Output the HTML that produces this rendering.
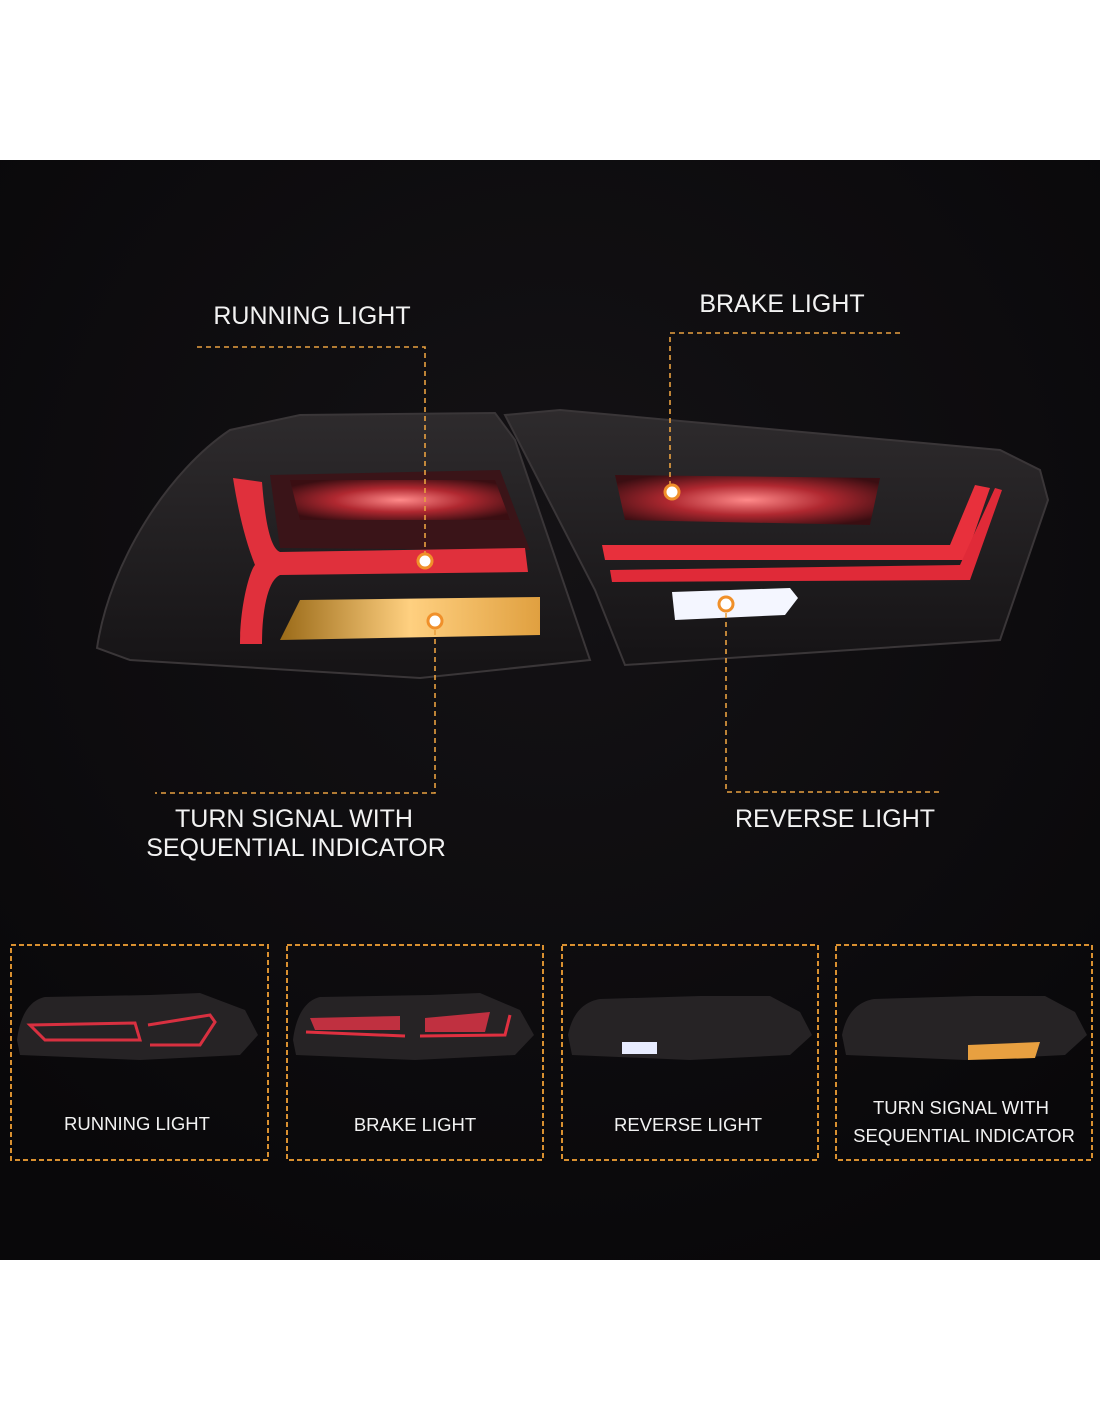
<!DOCTYPE html>
<html><head><style>
html,body{margin:0;padding:0;background:#fff;width:1100px;height:1422px;overflow:hidden}
svg{display:block}
text{font-family:"Liberation Sans",sans-serif;fill:#f2f2f2}
</style></head><body>
<svg width="1100" height="1422" viewBox="0 0 1100 1422">
<defs>
<radialGradient id="bg" cx="0.5" cy="0.35" r="0.7"><stop offset="0" stop-color="#141215"/><stop offset="1" stop-color="#09080a"/></radialGradient>
<linearGradient id="body" x1="0" y1="0" x2="0" y2="1"><stop offset="0" stop-color="#2e2b2d"/><stop offset="1" stop-color="#151315"/></linearGradient>
<radialGradient id="redg" cx="0.5" cy="0.5" r="0.6"><stop offset="0" stop-color="#ff8a8a"/><stop offset="0.5" stop-color="#b02830"/><stop offset="1" stop-color="#3a0e12"/></radialGradient>
<linearGradient id="amb" x1="0" y1="0" x2="1" y2="0"><stop offset="0" stop-color="#9a6a18"/><stop offset="0.5" stop-color="#ffd080"/><stop offset="1" stop-color="#e0a040"/></linearGradient>
</defs>
<rect x="0" y="160" width="1100" height="1100" fill="url(#bg)"/>
<path d="M97,648 C110,560 170,470 230,430 L300,415 L495,413 L515,440 L590,660 L420,678 L130,660 Z" fill="url(#body)" stroke="#3a3638" stroke-width="2"/>
<path d="M270,475 L500,470 L530,550 L280,548 Z" fill="#3a1418"/>
<path d="M290,480 L495,480 L510,520 L300,520 Z" fill="url(#redg)"/>
<path d="M280,640 L300,600 L540,597 L540,635 Z" fill="url(#amb)"/>
<path d="M233,478 L262,482 C265,520 270,548 280,552 L525,548 L528,572 L280,575 C268,580 262,610 262,644 L240,644 C240,605 250,570 255,565 C245,540 238,510 233,478 Z" fill="#e0303c"/>
<path d="M505,415 L560,410 L1000,450 L1040,470 L1048,500 L1000,640 L625,665 L595,590 Z" fill="url(#body)" stroke="#3a3638" stroke-width="2"/>
<path d="M615,475 L880,478 L870,525 L625,520 Z" fill="url(#redg)"/>
<path d="M602,545 L950,545 L975,485 L990,488 L965,560 L605,560 Z" fill="#e8303c"/>
<path d="M610,570 L960,565 L995,488 L1002,490 L970,580 L612,582 Z" fill="#e02a38"/>
<path d="M672,592 L790,588 L798,598 L785,615 L675,620 Z" fill="#f4f6ff"/>
<g stroke="#e8a040" stroke-width="1.6" stroke-dasharray="5,4" fill="none">
<path d="M197,347 H425 V561"/>
<path d="M900,333 H670 V492"/>
<path d="M435,621 V793 H155"/>
<path d="M726,604 V792 H940"/>
</g>
<g fill="#fff" stroke="#f0902a" stroke-width="3">
<circle cx="425" cy="561" r="7"/><circle cx="672" cy="492" r="7"/>
<circle cx="435" cy="621" r="7"/><circle cx="726" cy="604" r="7"/>
</g>
<g font-size="25" text-anchor="middle">
<text x="312" y="324">RUNNING LIGHT</text>
<text x="782" y="312">BRAKE LIGHT</text>
<text x="294" y="827">TURN SIGNAL WITH</text>
<text x="296" y="856">SEQUENTIAL INDICATOR</text>
<text x="835" y="827">REVERSE LIGHT</text>
</g>
<g stroke="#d99030" stroke-width="2" stroke-dasharray="5,3" fill="none">
<rect x="11" y="945" width="257" height="215"/>
<rect x="287" y="945" width="256" height="215"/>
<rect x="562" y="945" width="256" height="215"/>
<rect x="836" y="945" width="256" height="215"/>
</g>
<g>
<path d="M17,1040 C20,1015 30,1000 45,997 L150,995 L200,993 L245,1010 L258,1035 L240,1055 L140,1060 L20,1055 Z" fill="#262325"/>
<path d="M30,1025 L135,1023 L140,1040 L45,1040 Z" fill="none" stroke="#d83040" stroke-width="3"/>
<path d="M148,1025 L210,1015 L215,1022 L200,1045 L150,1045" fill="none" stroke="#d83040" stroke-width="3"/>
<path d="M293,1040 C296,1015 306,1000 320,997 L430,995 L480,993 L520,1010 L534,1035 L515,1055 L415,1060 L296,1055 Z" fill="#262325"/>
<path d="M310,1018 L400,1016 L400,1030 L315,1030 Z" fill="#c03040"/>
<path d="M425,1018 L490,1012 L485,1032 L425,1032 Z" fill="#c03040"/>
<path d="M306,1032 L405,1036 M420,1036 L505,1035 L510,1015" fill="none" stroke="#e03040" stroke-width="3"/>
<path d="M568,1035 C572,1015 582,1002 600,999 L700,996 L770,996 L800,1012 L812,1035 L790,1055 L690,1060 L572,1055 Z" fill="#262325"/>
<rect x="622" y="1042" width="35" height="12" fill="#e8ecff"/>
<path d="M842,1035 C846,1015 856,1002 874,999 L975,996 L1045,996 L1075,1012 L1087,1035 L1065,1055 L965,1060 L846,1055 Z" fill="#262325"/>
<path d="M968,1045 L1040,1042 L1035,1058 L968,1060 Z" fill="#e8a040"/>
</g>
<g font-size="18.5" text-anchor="middle">
<text x="137" y="1130">RUNNING LIGHT</text>
<text x="415" y="1131">BRAKE LIGHT</text>
<text x="688" y="1131">REVERSE LIGHT</text>
<text x="961" y="1114">TURN SIGNAL WITH</text>
<text x="964" y="1142">SEQUENTIAL INDICATOR</text>
</g>
</svg>
</body></html>
